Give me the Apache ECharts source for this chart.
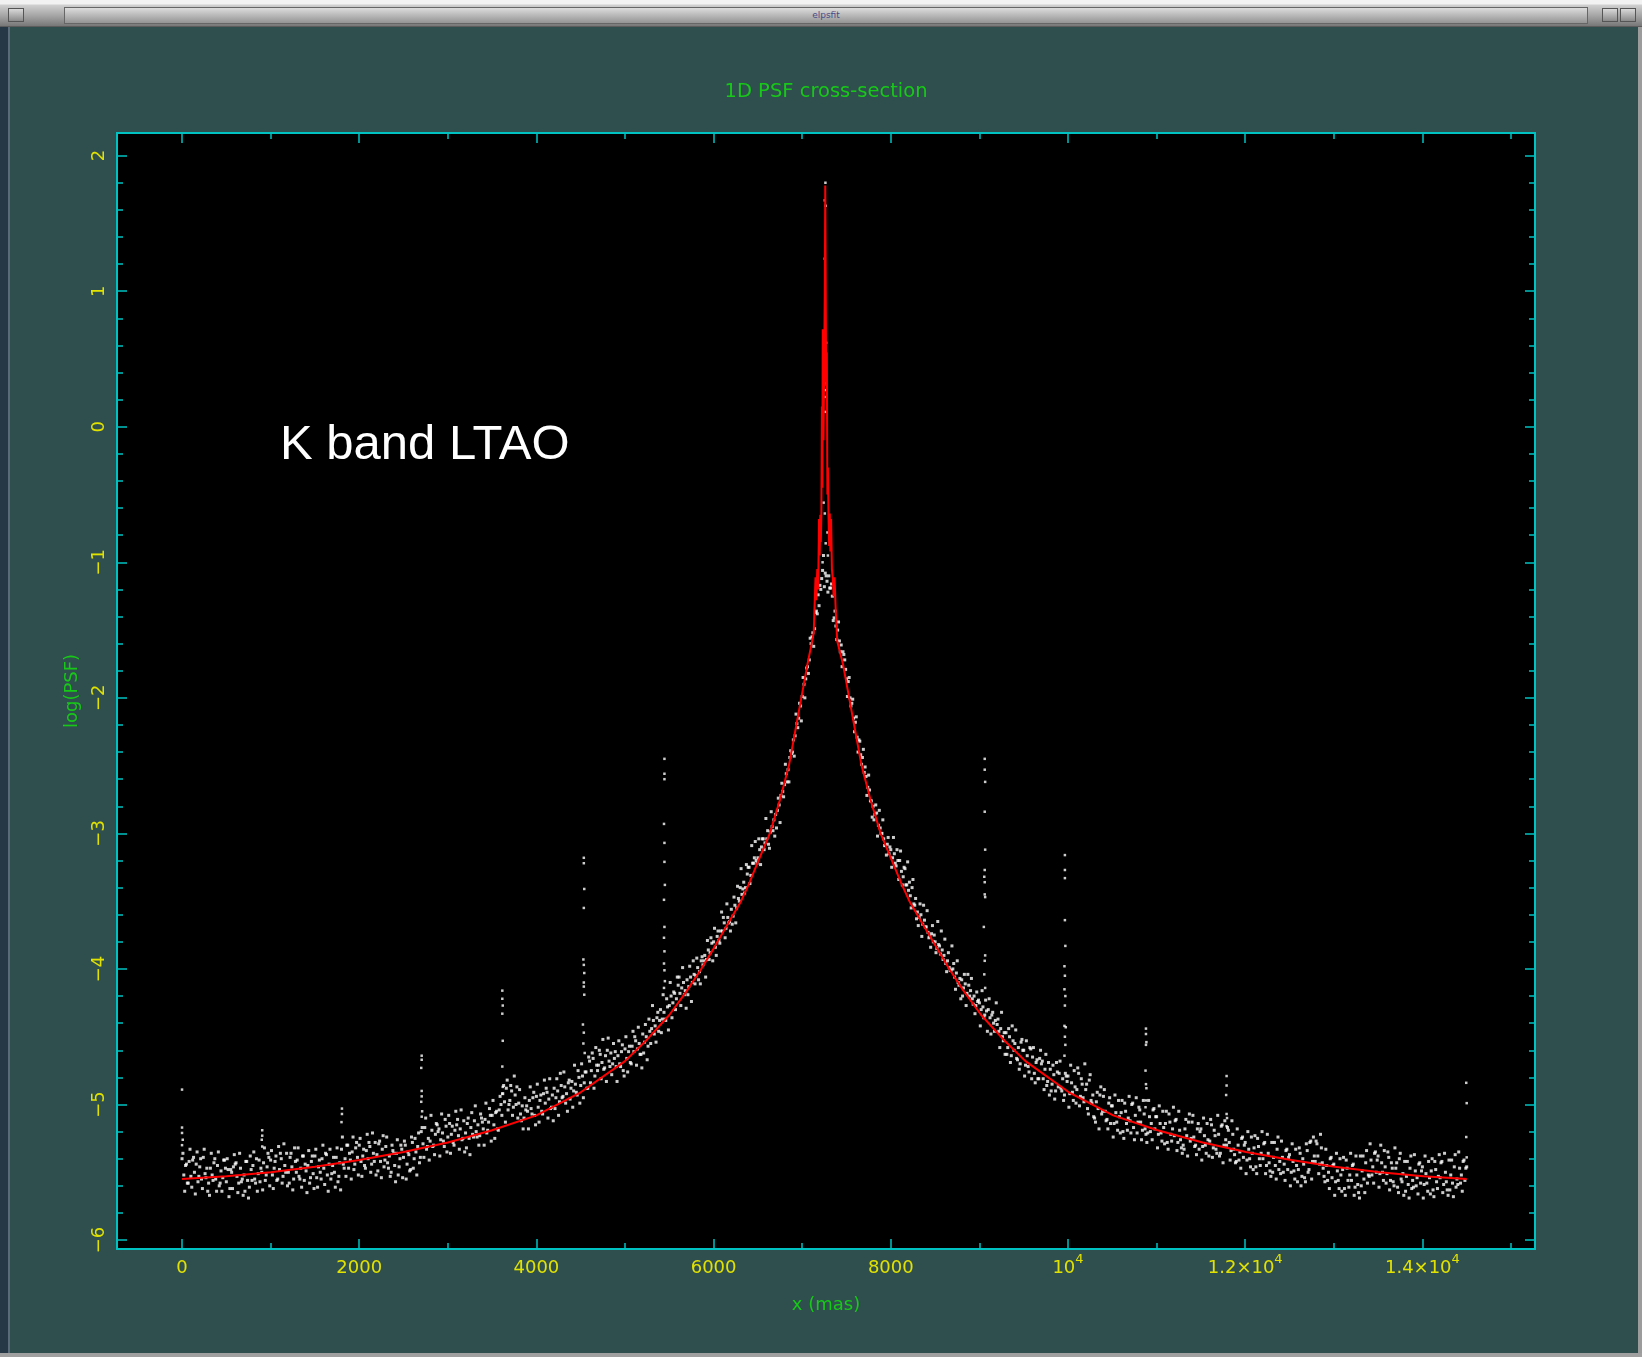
<!DOCTYPE html>
<html>
<head>
<meta charset="utf-8">
<script src="https://cdn.jsdelivr.net/npm/echarts@6/dist/echarts.min.js"></script>
<style>
  html, body { margin: 0; padding: 0; }
  body { width: 1642px; height: 1357px; overflow: hidden; position: relative; background: #2f4f4f; }
  #chart { position: absolute; left: 0; top: 0; width: 1642px; height: 1357px; }
  #bar { position: absolute; left: 0; top: 0; width: 1642px; height: 27px;
         background: linear-gradient(#f2f2f2 0, #f2f2f2 4px, #d0d0d0 5px, #a4a4a4 16px, #787878 26px, #404040 27px); }
  #bar .mid { position: absolute; left: 64px; right: 54px; top: 7px; height: 15px;
              border: 1px solid #666; background: linear-gradient(#dcdcdc, #949494);
              font: 9px "DejaVu Sans"; color: #4a4a8a; text-align: center; line-height: 15px; }
  .btn { position: absolute; top: 8px; width: 14px; height: 12px; border: 1px solid #555;
         background: linear-gradient(#d8d8d8, #8a8a8a); }
  #lborder { position: absolute; left: 0; top: 27px; width: 8px; height: 1330px; background: #263846; border-right: 2px solid #5a6a78; }
  #rborder { position: absolute; right: 0; top: 27px; width: 4px; height: 1330px; background: #9c9c9c; }
  #bborder { position: absolute; left: 0; bottom: 0; width: 1642px; height: 4px; background: #a0a0a0; }
</style>
</head>
<body>
<div id="chart"></div>
<div id="bar">
  <div class="btn" style="left:8px"></div>
  <div class="mid">elpsfit</div>
  <div class="btn" style="right:24px"></div>
  <div class="btn" style="right:6px"></div>
</div>
<div id="lborder"></div>
<div id="rborder"></div>
<div id="bborder"></div>
<script>
// ticks
var xMajor = [0, 2000, 4000, 6000, 8000, 10000, 12000, 14000];
var xTickLabels = ['{n|0}', '{n|2000}', '{n|4000}', '{n|6000}', '{n|8000}', '{n|10}{sup|4}', '{n|1.2×10}{sup|4}', '{n|1.4×10}{sup|4}'];
var xMinor = [1000, 3000, 5000, 7000, 9000, 11000, 13000, 15000];
var yMajor = [-6, -5, -4, -3, -2, -1, 0, 1, 2];
var yTickLabels = ['−6', '−5', '−4', '−3', '−2', '−1', '0', '1', '2'];
var yMinor = [];
for (var t = -29; t <= 10; t++) { if (t % 5 !== 0) yMinor.push(t / 5); }

// fitted profile (red)
var fitX = [0, 500, 1000, 1500, 2000, 2500, 3000, 3500, 4000, 4500, 5000, 5250, 5500, 5700, 5860, 6000, 6150, 6310, 6400, 6500, 6635, 6750, 6850, 6920, 6990, 7060, 7100,
  7130, 7150, 7160, 7170, 7180, 7190, 7197, 7204, 7210, 7216, 7222, 7227, 7232, 7240, 7250, 7256, 7260, 7264, 7270, 7278, 7284, 7290,
  7297, 7304, 7311, 7318, 7326, 7335, 7345, 7355, 7365, 7378, 7395,
  7460, 7530, 7600, 7670, 7770, 7885, 8120, 8210, 8370, 8660, 8820, 9020, 9270, 9520, 10010, 10510, 11010, 11520, 12010, 12520, 13010, 13520, 14010, 14500];
var fitY = [-5.55, -5.53, -5.50, -5.46, -5.41, -5.35, -5.28, -5.19, -5.08, -4.91, -4.68, -4.52, -4.34, -4.16, -4.00, -3.85, -3.68, -3.50, -3.37, -3.21, -3.00, -2.75, -2.50, -2.25, -2.00, -1.75, -1.62,
  -1.52, -1.11, -1.28, -1.05, -1.20, -0.68, -0.95, -0.65, -0.85, -0.66, 0.15, -0.45, 0.72, -0.10, 0.60, 1.10, 1.78, 1.20, 0.30, 0.55, -0.50, -0.30,
  -0.66, -0.88, -0.64, -0.92, -0.68, -1.05, -1.12, -1.25, -1.11, -1.35, -1.58,
  -1.75, -2.00, -2.25, -2.50, -2.75, -3.00, -3.37, -3.50, -3.68, -4.00, -4.16, -4.34, -4.52, -4.68, -4.91, -5.08, -5.19, -5.28, -5.35, -5.41, -5.46, -5.50, -5.53, -5.55];

// measured points: one row per 100 mas, samples every 20 mas (set A) and shifted by 10 mas (set B)
var tailLStart = 0, flankLStart = 4500, flankRStart = 7300, tailRStart = 10000;
var tailLA = [
  [-5.40, -5.52, -5.45, -5.58, -5.42], [-5.53, -5.41, -5.50, -5.44, -5.57], [-5.46, -5.55, -5.39, -5.51, -5.47],
  [-5.58, -5.47, -5.52, -5.43, -5.55], [-5.45, -5.60, -5.49, -5.54, -5.41], [-5.57, -5.48, -5.62, -5.50, -5.46],
  [-5.44, -5.53, -5.58, -5.47, -5.55], [-5.52, -5.42, -5.56, -5.61, -5.48], [-5.45, -5.55, -5.40, -5.51, -5.57],
  [-5.50, -5.43, -5.56, -5.46, -5.39], [-5.41, -5.52, -5.47, -5.38, -5.55], [-5.48, -5.40, -5.53, -5.45, -5.36],
  [-5.50, -5.39, -5.46, -5.55, -5.42], [-5.41, -5.53, -5.47, -5.38, -5.56], [-5.49, -5.45, -5.58, -5.42, -5.51],
  [-5.38, -5.54, -5.46, -5.50, -5.40], [-5.47, -5.36, -5.52, -5.44, -5.55], [-5.45, -5.50, -5.39, -5.57, -5.43],
  [-5.33, -5.44, -5.40, -5.30, -5.47], [-5.41, -5.35, -5.48, -5.32, -5.39], [-5.30, -5.42, -5.38, -5.45, -5.34],
  [-5.40, -5.31, -5.44, -5.36, -5.28], [-5.37, -5.29, -5.42, -5.33, -5.46], [-5.31, -5.43, -5.38, -5.50, -5.34],
  [-5.45, -5.36, -5.52, -5.40, -5.33], [-5.39, -5.30, -5.44, -5.37, -5.48], [-5.28, -5.40, -5.35, -5.31, -5.43],
  [-5.20, -5.29, -5.17, -5.33, -5.25], [-5.27, -5.19, -5.30, -5.22, -5.15], [-5.18, -5.26, -5.21, -5.31, -5.16],
  [-5.24, -5.14, -5.22, -5.28, -5.19], [-5.15, -5.23, -5.18, -5.26, -5.12], [-5.21, -5.14, -5.25, -5.17, -5.22],
  [-5.12, -5.20, -5.15, -5.23, -5.10], [-5.18, -5.11, -5.21, -5.13, -5.08], [-5.08, -5.15, -5.06, -5.18, -5.04],
  [-5.00, -4.92, -4.98, -4.88, -5.04], [-4.97, -4.90, -5.02, -4.93, -4.87], [-4.99, -5.07, -5.01, -5.10, -5.04],
  [-5.05, -4.97, -5.03, -4.95, -5.08], [-4.94, -5.02, -4.97, -5.05, -4.92], [-4.99, -4.91, -4.96, -5.03, -4.93],
  [-4.88, -4.95, -4.90, -4.98, -4.86], [-4.94, -4.87, -4.92, -4.84, -4.96], [-4.83, -4.90, -4.85, -4.93, -4.80]
];
var tailLB = [
  [-5.36, -5.64, -5.44, -5.58, -5.33], [-5.61, -5.39, -5.66, -5.35, -5.53], [-5.40, -5.62, -5.33, -5.54, -5.64],
  [-5.67, -5.36, -5.56, -5.40, -5.64], [-5.35, -5.58, -5.64, -5.41, -5.47], [-5.40, -5.68, -5.48, -5.62, -5.37],
  [-5.43, -5.65, -5.36, -5.57, -5.67], [-5.64, -5.42, -5.69, -5.38, -5.56], [-5.35, -5.58, -5.64, -5.41, -5.47],
  [-5.63, -5.32, -5.52, -5.36, -5.60], [-5.34, -5.62, -5.42, -5.56, -5.31], [-5.36, -5.58, -5.29, -5.50, -5.60],
  [-5.58, -5.36, -5.63, -5.32, -5.50], [-5.32, -5.55, -5.61, -5.38, -5.44], [-5.65, -5.34, -5.54, -5.38, -5.62],
  [-5.33, -5.61, -5.41, -5.55, -5.30], [-5.59, -5.37, -5.64, -5.33, -5.51], [-5.39, -5.61, -5.32, -5.53, -5.63],
  [-5.24, -5.47, -5.53, -5.30, -5.36], [-5.55, -5.24, -5.44, -5.28, -5.52], [-5.25, -5.53, -5.33, -5.47, -5.22],
  [-5.28, -5.50, -5.21, -5.42, -5.52], [-5.49, -5.27, -5.54, -5.23, -5.41], [-5.24, -5.47, -5.53, -5.30, -5.36],
  [-5.57, -5.26, -5.46, -5.30, -5.54], [-5.27, -5.55, -5.35, -5.49, -5.24], [-5.47, -5.25, -5.52, -5.21, -5.39],
  [-5.17, -5.39, -5.10, -5.31, -5.41], [-5.08, -5.31, -5.37, -5.14, -5.20], [-5.38, -5.07, -5.27, -5.11, -5.35],
  [-5.08, -5.36, -5.16, -5.30, -5.05], [-5.11, -5.33, -5.04, -5.25, -5.35], [-5.32, -5.10, -5.37, -5.06, -5.24],
  [-5.01, -5.24, -5.30, -5.07, -5.13], [-5.30, -4.99, -5.19, -5.03, -5.27], [-4.97, -5.25, -5.05, -5.19, -4.94],
  [-5.08, -4.86, -5.13, -4.82, -5.00], [-4.86, -5.08, -4.79, -5.00, -5.10], [-4.89, -5.12, -5.18, -4.95, -5.01],
  [-5.18, -4.87, -5.07, -4.91, -5.15], [-4.85, -5.13, -4.93, -5.07, -4.82], [-4.88, -5.10, -4.81, -5.02, -5.12],
  [-5.03, -4.81, -5.08, -4.77, -4.95], [-4.76, -4.99, -5.05, -4.82, -4.88], [-5.02, -4.71, -4.91, -4.75, -4.99]
];
var flankLA = [
  [-4.86, -4.79, -4.84, -4.76, -4.88], [-4.68, -4.75, -4.66, -4.79, -4.71], [-4.71, -4.63, -4.69, -4.74, -4.64],
  [-4.60, -4.68, -4.62, -4.70, -4.66], [-4.72, -4.64, -4.70, -4.61, -4.75], [-4.59, -4.66, -4.61, -4.69, -4.57],
  [-4.61, -4.53, -4.59, -4.55, -4.63], [-4.48, -4.54, -4.50, -4.57, -4.46], [-4.44, -4.38, -4.42, -4.36, -4.46],
  [-4.30, -4.37, -4.32, -4.38, -4.28], [-4.27, -4.20, -4.25, -4.18, -4.22], [-4.12, -4.18, -4.14, -4.10, -4.16],
  [-4.08, -4.13, -4.06, -4.10, -4.04], [-4.05, -3.99, -4.02, -3.94, -3.97], [-3.90, -3.93, -3.86, -3.88, -3.81],
  [-3.80, -3.84, -3.76, -3.79, -3.72], [-3.72, -3.66, -3.70, -3.62, -3.65], [-3.56, -3.61, -3.53, -3.55, -3.48],
  [-3.40, -3.45, -3.36, -3.40, -3.30], [-3.25, -3.31, -3.22, -3.18, -3.20], [-3.18, -3.12, -3.10, -3.04, -3.07],
  [-3.04, -3.08, -2.99, -2.95, -2.90], [-2.86, -2.83, -2.79, -2.72, -2.69], [-2.64, -2.56, -2.53, -2.44, -2.41],
  [-2.31, -2.28, -2.19, -2.15, -2.06], [-1.99, -1.90, -1.86, -1.77, -1.72], [-1.60, -1.52, -1.49, -1.36, -1.24],
  [-1.17, -1.12, -0.95, -1.08, -1.14]
];
var flankLB = [
  [-4.70, -4.95, -4.76, -4.88, -4.65], [-4.84, -4.62, -4.88, -4.58, -4.75], [-4.60, -4.81, -4.52, -4.73, -4.83],
  [-4.51, -4.72, -4.78, -4.55, -4.61], [-4.83, -4.53, -4.72, -4.56, -4.79], [-4.50, -4.76, -4.57, -4.70, -4.46],
  [-4.50, -4.71, -4.43, -4.63, -4.73], [-4.62, -4.41, -4.67, -4.37, -4.55], [-4.27, -4.48, -4.54, -4.32, -4.38],
  [-4.47, -4.19, -4.37, -4.22, -4.45], [-4.10, -4.36, -4.17, -4.30, -4.06], [-4.06, -4.27, -3.99, -4.19, -4.29],
  [-4.19, -3.98, -4.24, -3.94, -4.11], [-3.92, -4.08, -4.11, -3.91, -3.94], [-4.06, -3.79, -3.93, -3.77, -3.94],
  [-3.70, -3.90, -3.72, -3.81, -3.58], [-3.62, -3.77, -3.52, -3.66, -3.72], [-3.67, -3.47, -3.66, -3.39, -3.50],
  [-3.26, -3.41, -3.44, -3.23, -3.25], [-3.37, -3.09, -3.22, -3.06, -3.22], [-3.04, -3.23, -3.04, -3.12, -2.89],
  [-2.98, -3.11, -2.84, -2.98, -3.02], [-2.96, -2.74, -2.92, -2.63, -2.73], [-2.49, -2.62, -2.62, -2.39, -2.40],
  [-2.43, -2.12, -2.22, -2.04, -2.17], [-1.85, -2.00, -1.78, -1.82, -1.56], [-1.55, -1.62, -1.37, -1.38, -1.32],
  [-1.20, -1.06, -1.18, -1.10, -1.22]
];
var flankRA = [
  [-1.10, -1.19, -1.25, -1.41, -1.47], [-1.50, -1.58, -1.61, -1.66, -1.72], [-1.86, -1.88, -2.00, -2.04, -2.15],
  [-2.18, -2.29, -2.31, -2.42, -2.44], [-2.55, -2.58, -2.66, -2.68, -2.76], [-2.80, -2.86, -2.85, -2.94, -2.96],
  [-3.00, -3.04, -3.09, -3.08, -3.15], [-3.12, -3.18, -3.15, -3.24, -3.20], [-3.20, -3.28, -3.32, -3.26, -3.38],
  [-3.42, -3.46, -3.40, -3.52, -3.48], [-3.58, -3.62, -3.60, -3.67, -3.64], [-3.69, -3.73, -3.76, -3.74, -3.80],
  [-3.80, -3.85, -3.82, -3.89, -3.86], [-3.90, -3.96, -3.94, -3.99, -4.01], [-4.00, -4.06, -4.03, -4.10, -4.07],
  [-4.08, -4.14, -4.11, -4.18, -4.12], [-4.16, -4.22, -4.20, -4.27, -4.24], [-4.25, -4.30, -4.28, -4.34, -4.31],
  [-4.30, -4.36, -4.34, -4.40, -4.38], [-4.41, -4.46, -4.44, -4.50, -4.47], [-4.47, -4.58, -4.50, -4.64, -4.53],
  [-4.55, -4.66, -4.58, -4.70, -4.52], [-4.60, -4.71, -4.64, -4.76, -4.59], [-4.65, -4.77, -4.69, -4.81, -4.66],
  [-4.70, -4.81, -4.74, -4.86, -4.69], [-4.74, -4.85, -4.78, -4.90, -4.76], [-4.77, -4.88, -4.81, -4.93, -4.79]
];
var flankRB = [
  [-1.19, -1.16, -1.43, -1.36, -1.57], [-1.44, -1.66, -1.77, -1.68, -1.79], [-1.99, -1.85, -2.06, -2.01, -2.25],
  [-2.14, -2.40, -2.32, -2.49, -2.38], [-2.51, -2.72, -2.57, -2.76, -2.88], [-2.90, -2.79, -3.02, -2.83, -3.00],
  [-2.90, -3.09, -3.16, -3.03, -3.10], [-3.25, -3.03, -3.22, -3.12, -3.34], [-3.13, -3.38, -3.25, -3.38, -3.21],
  [-3.36, -3.55, -3.34, -3.53, -3.63], [-3.68, -3.52, -3.76, -3.53, -3.69], [-3.57, -3.77, -3.84, -3.68, -3.75],
  [-3.88, -3.65, -3.83, -3.72, -3.93], [-3.78, -4.02, -3.88, -4.01, -3.83], [-3.96, -4.15, -3.94, -4.12, -4.22],
  [-4.20, -4.04, -4.27, -4.04, -4.20], [-4.07, -4.26, -4.33, -4.17, -4.23], [-4.42, -4.16, -4.36, -4.23, -4.46],
  [-4.22, -4.48, -4.32, -4.46, -4.25], [-4.37, -4.58, -4.32, -4.53, -4.63], [-4.63, -4.44, -4.69, -4.42, -4.60],
  [-4.45, -4.67, -4.74, -4.54, -4.60], [-4.79, -4.53, -4.72, -4.58, -4.81], [-4.58, -4.84, -4.67, -4.81, -4.60],
  [-4.68, -4.89, -4.63, -4.83, -4.93], [-4.90, -4.71, -4.96, -4.69, -4.87], [-4.68, -4.90, -4.97, -4.77, -4.83]
];
var tailRA = [
  [-4.79, -4.92, -4.84, -4.97, -4.87], [-4.89, -4.77, -4.94, -4.85, -4.98], [-4.89, -5.03, -4.82, -4.97, -4.93],
  [-5.10, -4.98, -5.03, -4.93, -5.07], [-4.94, -5.05, -5.11, -4.99, -5.14], [-5.01, -5.14, -5.06, -5.19, -5.09],
  [-5.06, -5.20, -4.99, -5.14, -5.10], [-5.12, -5.00, -5.17, -5.08, -5.21], [-5.02, -5.13, -5.19, -5.07, -5.22],
  [-5.21, -5.09, -5.14, -5.04, -5.18], [-5.09, -5.22, -5.14, -5.27, -5.17], [-5.14, -5.28, -5.07, -5.22, -5.18],
  [-5.23, -5.11, -5.28, -5.19, -5.32], [-5.30, -5.18, -5.23, -5.13, -5.27], [-5.13, -5.24, -5.30, -5.18, -5.33],
  [-5.18, -5.31, -5.23, -5.36, -5.26], [-5.27, -5.15, -5.32, -5.23, -5.36], [-5.22, -5.36, -5.15, -5.30, -5.26],
  [-5.17, -5.28, -5.34, -5.22, -5.37], [-5.42, -5.30, -5.35, -5.25, -5.39], [-5.28, -5.41, -5.33, -5.46, -5.36],
  [-5.32, -5.46, -5.25, -5.40, -5.36], [-5.40, -5.28, -5.45, -5.36, -5.49], [-5.28, -5.39, -5.45, -5.33, -5.48],
  [-5.51, -5.39, -5.44, -5.34, -5.48], [-5.37, -5.50, -5.42, -5.55, -5.45], [-5.48, -5.36, -5.53, -5.44, -5.57],
  [-5.34, -5.48, -5.27, -5.42, -5.38], [-5.27, -5.38, -5.44, -5.32, -5.47], [-5.57, -5.45, -5.50, -5.40, -5.54],
  [-5.44, -5.57, -5.49, -5.62, -5.52], [-5.48, -5.62, -5.41, -5.56, -5.52], [-5.56, -5.44, -5.61, -5.52, -5.65],
  [-5.38, -5.49, -5.55, -5.43, -5.58], [-5.53, -5.41, -5.46, -5.36, -5.50], [-5.38, -5.51, -5.43, -5.56, -5.46],
  [-5.51, -5.39, -5.56, -5.47, -5.60], [-5.47, -5.61, -5.40, -5.55, -5.51], [-5.42, -5.53, -5.59, -5.47, -5.62],
  [-5.61, -5.49, -5.54, -5.44, -5.58], [-5.46, -5.59, -5.51, -5.64, -5.54], [-5.49, -5.63, -5.42, -5.57, -5.53],
  [-5.54, -5.42, -5.59, -5.50, -5.63], [-5.41, -5.52, -5.58, -5.46, -5.61], [-5.59, -5.47, -5.52, -5.42, -5.56],
  [-5.46]
];
var tailRB = [
  [-5.02, -4.71, -4.91, -4.75, -4.99], [-4.73, -5.01, -4.81, -4.95, -4.70], [-4.85, -5.07, -4.78, -4.99, -5.09],
  [-5.13, -4.91, -5.18, -4.87, -5.05], [-4.89, -5.12, -5.18, -4.95, -5.01], [-5.24, -4.93, -5.13, -4.97, -5.21],
  [-4.97, -5.25, -5.05, -5.19, -4.94], [-5.21, -4.99, -5.26, -4.95, -5.13], [-5.04, -5.26, -4.97, -5.18, -5.28],
  [-4.97, -5.20, -5.26, -5.03, -5.09], [-5.32, -5.01, -5.21, -5.05, -5.29], [-5.05, -5.33, -5.13, -5.27, -5.02],
  [-5.12, -5.34, -5.05, -5.26, -5.36], [-5.33, -5.11, -5.38, -5.07, -5.25], [-5.08, -5.31, -5.37, -5.14, -5.20],
  [-5.41, -5.10, -5.30, -5.14, -5.38], [-5.11, -5.39, -5.19, -5.33, -5.08], [-5.38, -5.16, -5.43, -5.12, -5.30],
  [-5.19, -5.41, -5.12, -5.33, -5.43], [-5.18, -5.41, -5.47, -5.24, -5.30], [-5.51, -5.20, -5.40, -5.24, -5.48],
  [-5.23, -5.51, -5.31, -5.45, -5.20], [-5.29, -5.51, -5.22, -5.43, -5.53], [-5.50, -5.28, -5.55, -5.24, -5.42],
  [-5.27, -5.50, -5.56, -5.33, -5.39], [-5.60, -5.29, -5.49, -5.33, -5.57], [-5.32, -5.60, -5.40, -5.54, -5.29],
  [-5.50, -5.28, -5.55, -5.24, -5.42], [-5.29, -5.51, -5.22, -5.43, -5.53], [-5.33, -5.56, -5.62, -5.39, -5.45],
  [-5.67, -5.36, -5.56, -5.40, -5.64], [-5.39, -5.67, -5.47, -5.61, -5.36], [-5.45, -5.67, -5.38, -5.59, -5.69],
  [-5.60, -5.38, -5.65, -5.34, -5.52], [-5.29, -5.52, -5.58, -5.35, -5.41], [-5.61, -5.30, -5.50, -5.34, -5.58],
  [-5.35, -5.63, -5.43, -5.57, -5.32], [-5.43, -5.65, -5.36, -5.57, -5.67], [-5.64, -5.42, -5.69, -5.38, -5.56],
  [-5.37, -5.60, -5.66, -5.43, -5.49], [-5.69, -5.38, -5.58, -5.42, -5.66], [-5.40, -5.68, -5.48, -5.62, -5.37],
  [-5.43, -5.65, -5.36, -5.57, -5.67], [-5.63, -5.41, -5.68, -5.37, -5.55], [-5.35, -5.58, -5.64, -5.41, -5.47]
];
// isolated columns of points (ghosts) and points on the core
var spikePts = [
  [0, -4.89], [0, -5.17], [0, -5.21], [8, -5.26], [0, -5.30],
  [905, -5.19], [905, -5.23], [900, -5.26], [905, -5.31],
  [1805, -5.03], [1805, -5.07], [1800, -5.13],
  [2705, -4.64], [2705, -4.67], [2700, -4.73], [2705, -4.90], [2705, -4.94], [2700, -4.98], [2710, -5.05], [2705, -5.09],
  [3615, -4.16], [3615, -4.22], [3620, -4.27], [3615, -4.33], [3620, -4.53], [3615, -4.72], [3620, -4.87], [3615, -4.92],
  [4535, -3.18], [4535, -3.22], [4540, -3.41], [4535, -3.55], [4530, -3.93], [4535, -3.97], [4540, -4.03], [4535, -4.10],
  [4535, -4.13], [4540, -4.19], [4525, -4.41], [4535, -4.47], [4530, -4.55], [4545, -4.62],
  [5445, -2.45], [5445, -2.56], [5445, -2.60], [5440, -2.93], [5445, -3.07], [5445, -3.21], [5450, -3.38], [5440, -3.49],
  [5445, -3.69], [5440, -3.77], [5445, -3.87], [5440, -3.96], [5445, -4.01], [5450, -4.09], [5440, -4.14],
  [9060, -2.45], [9060, -2.53], [9065, -2.62], [9060, -2.84], [9065, -3.12], [9060, -3.27], [9055, -3.32], [9060, -3.36],
  [9060, -3.45], [9065, -3.47], [9050, -3.69], [9065, -3.90], [9060, -3.94], [9055, -4.04], [9065, -4.14],
  [9965, -3.16], [9965, -3.27], [9965, -3.33], [9965, -3.64], [9970, -3.83], [9960, -3.98], [9965, -4.05], [9960, -4.15],
  [9970, -4.20], [9965, -4.27], [9960, -4.42], [9975, -4.43], [9965, -4.50], [9970, -4.56], [9960, -4.64],
  [10880, -4.44], [10880, -4.48], [10885, -4.54], [10880, -4.56], [10875, -4.75], [10880, -4.85], [10885, -4.88], [10880, -4.97], [10875, -5.02],
  [11790, -4.79], [11790, -4.86], [11785, -4.93], [11790, -5.07], [11795, -5.10], [11790, -5.16],
  [14495, -4.84], [14500, -4.99], [14495, -5.24], [14500, -5.39]
];
var corePts = [[7262, 1.80], [7255, 1.67], [7265, 1.63], [7255, 1.24], [7270, 0.62], [7250, 0.50], [7262, 0.32], [7258, 0.27],
  [7252, 0.22], [7262, 0.11], [7242, -0.56], [7255, -0.64], [7285, -0.78], [7265, -0.86], [7290, -0.95], [7230, -1.0]];

function rowsToPoints(rows, start, off, out) {
  rows.forEach(function (row, j) {
    row.forEach(function (v, k) { out.push([start + j * 100 + k * 20 + off, v]); });
  });
}
var cloud = [];
rowsToPoints(tailLA, tailLStart, 0, cloud);
rowsToPoints(tailLB, tailLStart, 10, cloud);
rowsToPoints(flankLA, flankLStart, 0, cloud);
rowsToPoints(flankLB, flankLStart, 10, cloud);
rowsToPoints(flankRA, flankRStart, 0, cloud);
rowsToPoints(flankRB, flankRStart, 10, cloud);
rowsToPoints(tailRA, tailRStart, 0, cloud);
rowsToPoints(tailRB, tailRStart, 10, cloud);
var fitData = fitX.map(function (x, i) { return [x, fitY[i]]; });

var cyan = '#00c2c2';
var yellow = '#e2e200';
var green = '#18c818';
var font = 'DejaVu Sans';
var xMin = -734, xMax = 15271, yMin = -6.066, yMax = 2.167;

function tickAxis(pos, vals, len, extra) {
  var horiz = pos === 'top' || pos === 'bottom';
  var a = {
    type: 'value', position: pos, min: horiz ? xMin : yMin, max: horiz ? xMax : yMax,
    axisLine: { show: true, onZero: false, lineStyle: { color: cyan, width: 2 } },
    axisTick: { show: true, inside: true, length: len, customValues: vals, lineStyle: { color: cyan, width: 1.5 } },
    axisLabel: { show: false },
    splitLine: { show: false }
  };
  for (var k in extra) a[k] = extra[k];
  return a;
}

var chart = echarts.init(document.getElementById('chart'));
var option = {
  backgroundColor: '#2f4f4f',
  animation: false,
  title: {
    text: '1D PSF cross-section', left: 821, top: 77, textAlign: 'center',
    textStyle: { color: green, fontSize: 19.5, fontWeight: 'normal', fontFamily: font }
  },
  grid: { left: 117, top: 133, right: 107, bottom: 108, show: true, backgroundColor: '#000', borderWidth: 0 },
  xAxis: [
    tickAxis('bottom', xMajor, 10, {
      name: 'x (mas)', nameLocation: 'middle', nameGap: 47,
      nameTextStyle: { color: green, fontSize: 18, fontFamily: font },
      axisLabel: {
        show: true, customValues: xMajor, margin: 4, color: yellow, fontFamily: font,
        formatter: function (v) { return xTickLabels[xMajor.indexOf(v)]; },
        rich: {
          n: { fontSize: 18, lineHeight: 24, verticalAlign: 'bottom', color: yellow, fontFamily: font },
          sup: { fontSize: 13, lineHeight: 10, verticalAlign: 'top', color: yellow, fontFamily: font }
        }
      }
    }),
    tickAxis('bottom', xMinor, 6, {}),
    tickAxis('top', xMajor, 10, {}),
    tickAxis('top', xMinor, 6, {})
  ],
  yAxis: [
    tickAxis('left', yMajor, 10, {
      name: 'log(PSF)', nameLocation: 'middle', nameGap: 36, nameRotate: 90,
      nameTextStyle: { color: green, fontSize: 18, fontFamily: font },
      axisLabel: {
        show: true, customValues: yMajor, rotate: 90, margin: 9, color: yellow, fontSize: 18, fontFamily: font,
        formatter: function (v) { return yTickLabels[yMajor.indexOf(v)]; }
      }
    }),
    tickAxis('left', yMinor, 6, {}),
    tickAxis('right', yMajor, 10, {}),
    tickAxis('right', yMinor, 6, {})
  ],
  graphic: [{
    type: 'text', x: 280, y: 445,
    style: { text: 'K band LTAO', fill: '#ffffff', font: '49px "Liberation Sans"', verticalAlign: 'middle' }
  }],
  series: [
    { name: 'data', type: 'scatter', data: cloud, symbol: 'rect', symbolSize: 3, itemStyle: { color: '#ffffff' }, z: 2 },
    { name: 'ghosts', type: 'scatter', data: spikePts.concat(corePts), symbol: 'rect', symbolSize: 2.5, itemStyle: { color: '#ffffff' }, z: 2 },
    { name: 'fit', type: 'line', data: fitData, showSymbol: false, symbol: 'none', lineStyle: { color: '#ff0000', width: 2 }, z: 3 }
  ]
};
chart.setOption(option);
</script>
</body>
</html>
